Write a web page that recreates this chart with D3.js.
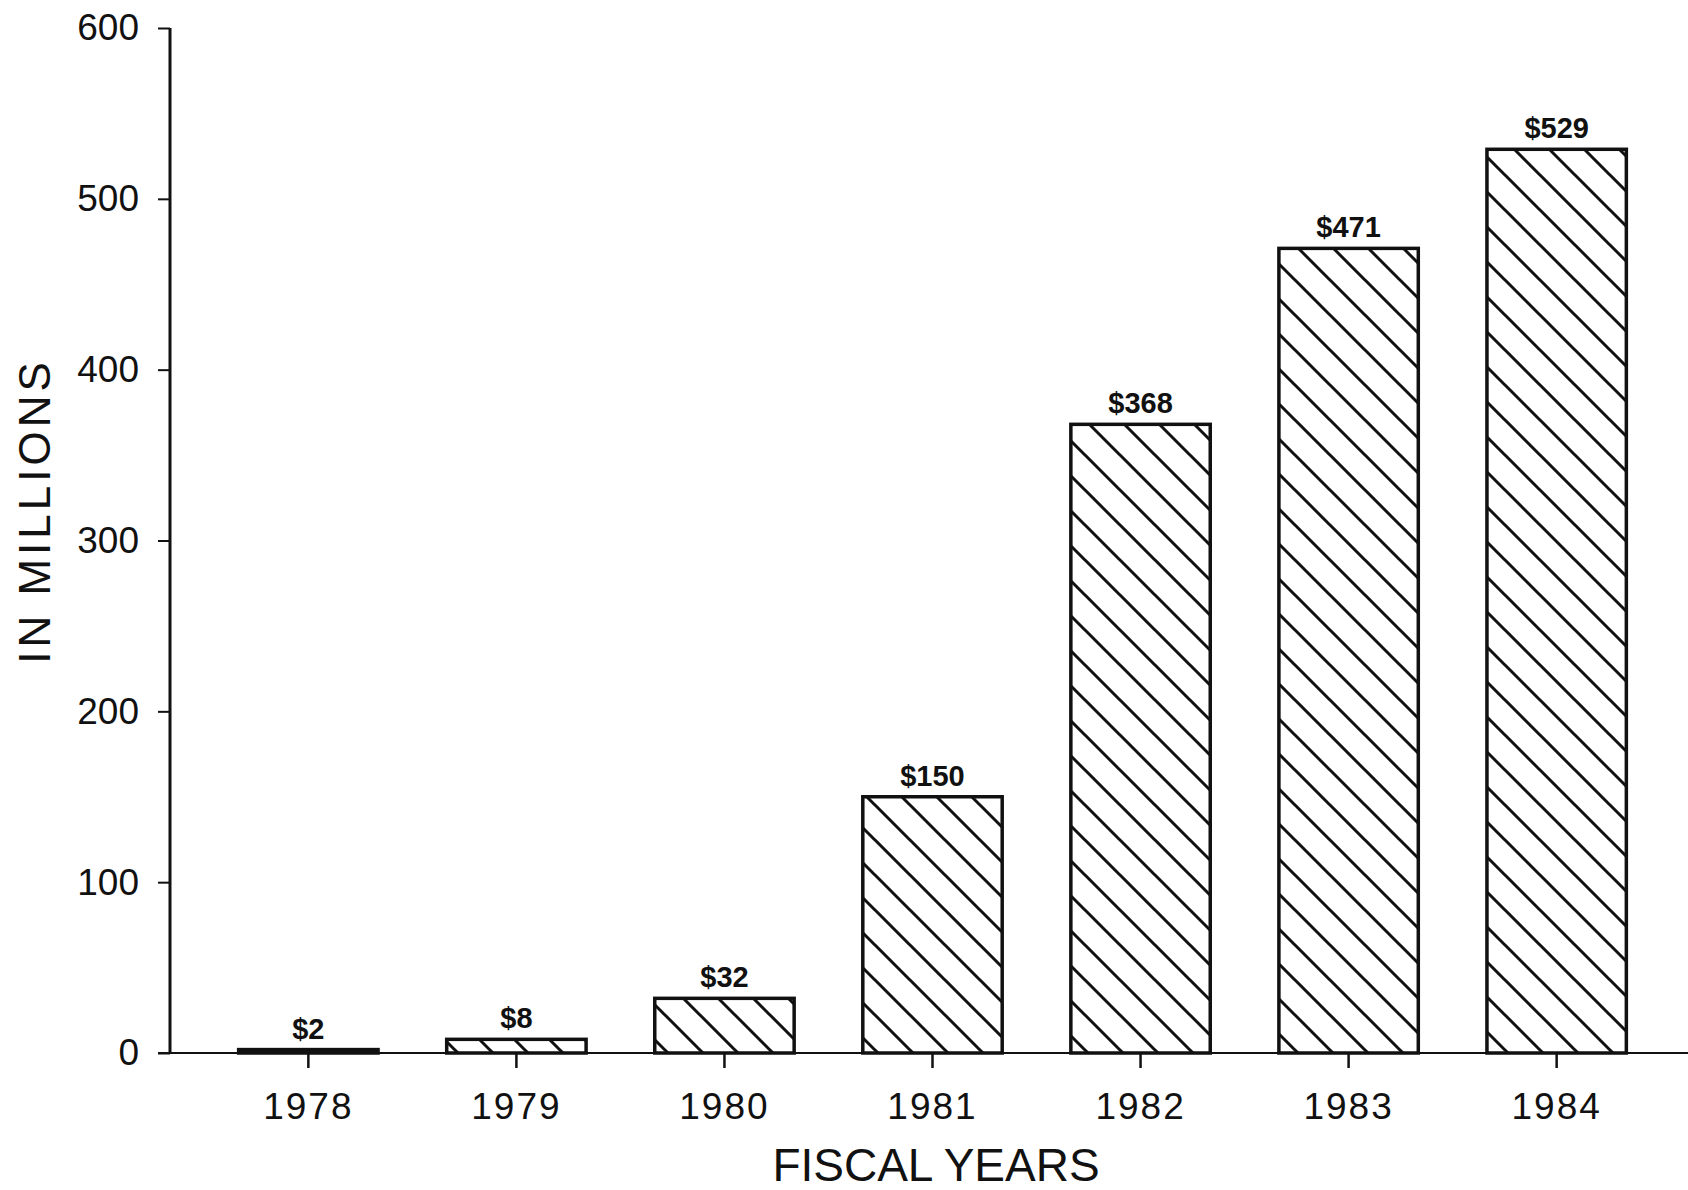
<!DOCTYPE html>
<html>
<head>
<meta charset="utf-8">
<script src="https://cdn.jsdelivr.net/npm/d3@7"></script>
<style>
  body { margin: 0; background: #fff; }
  .tick text { font-family: "Liberation Sans", Arial, sans-serif; }
</style>
</head>
<body>
<div class="vis"></div>
<script>
var w = 1688;
var h = 1190;

// Chart data
var years = ["1978", "1979", "1980", "1981", "1982", "1983", "1984"];
var amounts = [2, 8, 32, 150, 368, 471, 529];
var yTicks = [0, 100, 200, 300, 400, 500, 600];

var plotLeft = 170;
var plotTop = 28;
var plotBottom = 1053;

//Create SVG element
var svg = d3.select(".vis")
    .append("svg")
    .attr("width", w)
    .attr("height", h);

// Diagonal hatch pattern for the bars
svg.append("defs")
    .append("pattern")
    .attr("id", "hatch")
    .attr("patternUnits", "userSpaceOnUse")
    .attr("width", 35)
    .attr("height", 35)
    .append("path")
    .attr("d", "M-5,-5 L40,40 M-6,29 L6,41 M29,-6 L41,6")
    .attr("stroke", "#111")
    .attr("stroke-width", 3);

// Scales
var x = d3.scaleBand()
    .domain(years)
    .range([plotLeft, 1695])
    .padding(0.33);

var y = d3.scaleLinear()
    .domain([0, 600])
    .range([plotBottom, plotTop]);

// Bars
svg.selectAll("rect.bar")
    .data(years)
    .enter()
    .append("rect")
    .attr("class", "bar")
    .attr("x", d => x(d))
    .attr("y", (d, i) => y(amounts[i]))
    .attr("width", x.bandwidth())
    .attr("height", (d, i) => y(0) - y(amounts[i]))
    .attr("fill", "url(#hatch)")
    .attr("stroke", "#111")
    .attr("stroke-width", 3.5);

// Value labels above the bars
svg.selectAll("text.value")
    .data(years)
    .enter()
    .append("text")
    .attr("class", "value")
    .attr("x", d => x(d) + x.bandwidth() / 2)
    .attr("y", (d, i) => y(amounts[i]) - 11)
    .attr("text-anchor", "middle")
    .attr("font-family", "'Liberation Sans', Arial, sans-serif")
    .attr("font-weight", "bold")
    .attr("font-size", 29)
    .attr("fill", "#111")
    .text((d, i) => "$" + amounts[i]);

// Y axis
var yAxis = svg.append("g")
    .attr("transform", `translate(${plotLeft},0)`)
    .call(d3.axisLeft(y).tickValues(yTicks).tickSize(12).tickPadding(19));

yAxis.select(".domain")
    .attr("d", `M0,${plotTop}V${plotBottom}`)
    .attr("stroke", "#111")
    .attr("stroke-width", 3);
yAxis.selectAll(".tick line").attr("stroke", "#111").attr("stroke-width", 2);
yAxis.selectAll(".tick text")
    .attr("font-size", 37)
    .attr("fill", "#111");

// X axis
var xAxis = svg.append("g")
    .attr("transform", `translate(0,${plotBottom})`)
    .call(d3.axisBottom(x).tickSize(15).tickPadding(25));

xAxis.select(".domain")
    .attr("d", `M${plotLeft - 12},0H${w}`)
    .attr("stroke", "#111")
    .attr("stroke-width", 2);
xAxis.selectAll(".tick line").attr("stroke", "#111").attr("stroke-width", 2.5);
xAxis.selectAll(".tick text")
    .attr("font-size", 37)
    .attr("letter-spacing", 2)
    .attr("fill", "#111");

// Axis titles
svg.append("text")
    .attr("transform", "translate(50,511) rotate(-90)")
    .attr("text-anchor", "middle")
    .attr("font-family", "'Liberation Sans', Arial, sans-serif")
    .attr("font-size", 44)
    .attr("letter-spacing", 4)
    .attr("fill", "#111")
    .text("IN MILLIONS");

svg.append("text")
    .attr("x", 936)
    .attr("y", 1181)
    .attr("text-anchor", "middle")
    .attr("font-family", "'Liberation Sans', Arial, sans-serif")
    .attr("font-size", 46)
    .attr("fill", "#111")
    .text("FISCAL YEARS");
</script>
</body>
</html>
